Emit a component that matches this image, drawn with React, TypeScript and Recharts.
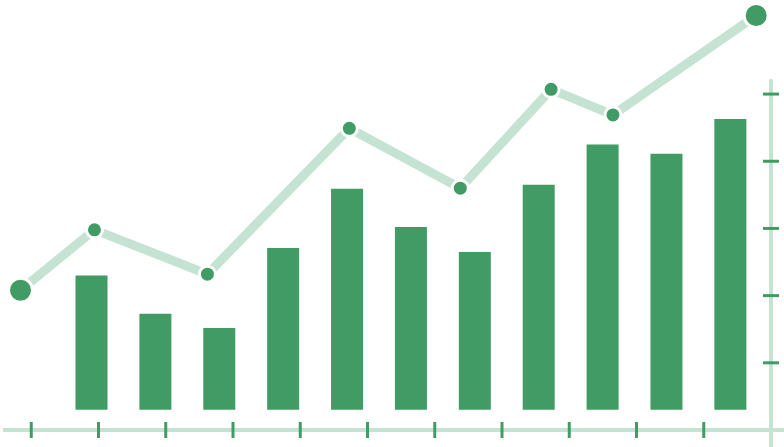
import React from 'react'
import { ComposedChart, Bar, Line, XAxis, YAxis, ReferenceLine } from 'recharts'

// bars, one per category
const barLabels = ['1', '2', '3', '4', '5', '6', '7', '8', '9', '10', '11']
const barValues = [2.0, 1.43, 1.22, 2.41, 3.29, 2.72, 2.35, 3.35, 3.95, 3.81, 4.33]

// trend line, irregular x positions on the grid axis
const lineX = [-0.16, 0.94, 2.62, 4.73, 6.38, 7.73, 8.65, 10.78]
const lineY = [2.08, 2.98, 2.32, 4.49, 3.6, 5.07, 4.69, 6.17]

const xTicks = [0, 1, 2, 3, 4, 5, 6, 7, 8, 9, 10]
const yTicks = [1, 2, 3, 4, 5]

const DARK = '#419b65'
const LIGHT = '#c5e3d2'

const barData = barLabels.map((name, i) => ({ name, value: barValues[i] }))
const lineData = lineX.map((x, i) => ({ x, y: lineY[i] }))

function XTick(props: any) {
  const { x, y } = props
  return <line x1={x} x2={x} y1={y - 8} y2={y + 8} stroke={DARK} strokeWidth={3} />
}

function YTick(props: any) {
  const { x, y } = props
  return <line x1={x - 8} x2={x + 8} y1={y} y2={y} stroke={DARK} strokeWidth={3} />
}

function Dot(props: any) {
  const { cx, cy, index } = props
  const big = index === 0 || index === lineData.length - 1
  return (
    <circle
      key={index}
      cx={cx}
      cy={cy}
      r={big ? 12 : 8}
      fill={DARK}
      stroke="#fff"
      strokeWidth={3}
    />
  )
}

export default function App() {
  return (
    <div style={{ position: 'absolute', left: 0, top: 0 }}>
      <ComposedChart
        width={784}
        height={447}
        data={barData}
        margin={{ top: 0, right: 0, bottom: 0, left: 3 }}
      >
        <XAxis
          xAxisId="grid"
          dataKey="x"
          type="number"
          domain={[-0.42, 11]}
          allowDataOverflow
          ticks={xTicks}
          interval={0}
          height={17}
          axisLine={false}
          tickLine={false}
          tickSize={0}
          tickMargin={0}
          tick={<XTick />}
        />
        <XAxis
          xAxisId="bars"
          dataKey="name"
          hide
          height={0}
          padding={{ left: 56.5, right: 8.75 }}
        />
        <YAxis
          yAxisId="grid"
          orientation="right"
          width={13}
          domain={[0, 6.4]}
          allowDataOverflow
          ticks={yTicks}
          interval={0}
          axisLine={false}
          tickLine={false}
          tickSize={0}
          tickMargin={0}
          tick={<YTick />}
        />
        <YAxis yAxisId="bars" hide width={0} domain={[-0.3, 6.1]} allowDataOverflow />
        <ReferenceLine
          xAxisId="grid"
          yAxisId="grid"
          segment={[{ x: -0.42, y: 0 }, { x: 11.2, y: 0 }]}
          ifOverflow="visible"
          stroke={LIGHT}
          strokeWidth={4}
        />
        <ReferenceLine
          xAxisId="grid"
          yAxisId="grid"
          segment={[{ x: 11, y: -0.26 }, { x: 11, y: 5.22 }]}
          ifOverflow="visible"
          stroke={LIGHT}
          strokeWidth={4}
        />
        <Bar
          xAxisId="bars"
          yAxisId="bars"
          dataKey="value"
          barSize={32}
          fill={DARK}
          isAnimationActive={false}
        />
        <Line
          xAxisId="grid"
          yAxisId="grid"
          data={lineData}
          dataKey="y"
          type="linear"
          stroke={LIGHT}
          strokeWidth={9}
          dot={<Dot />}
          activeDot={false}
          isAnimationActive={false}
        />
      </ComposedChart>
    </div>
  )
}
